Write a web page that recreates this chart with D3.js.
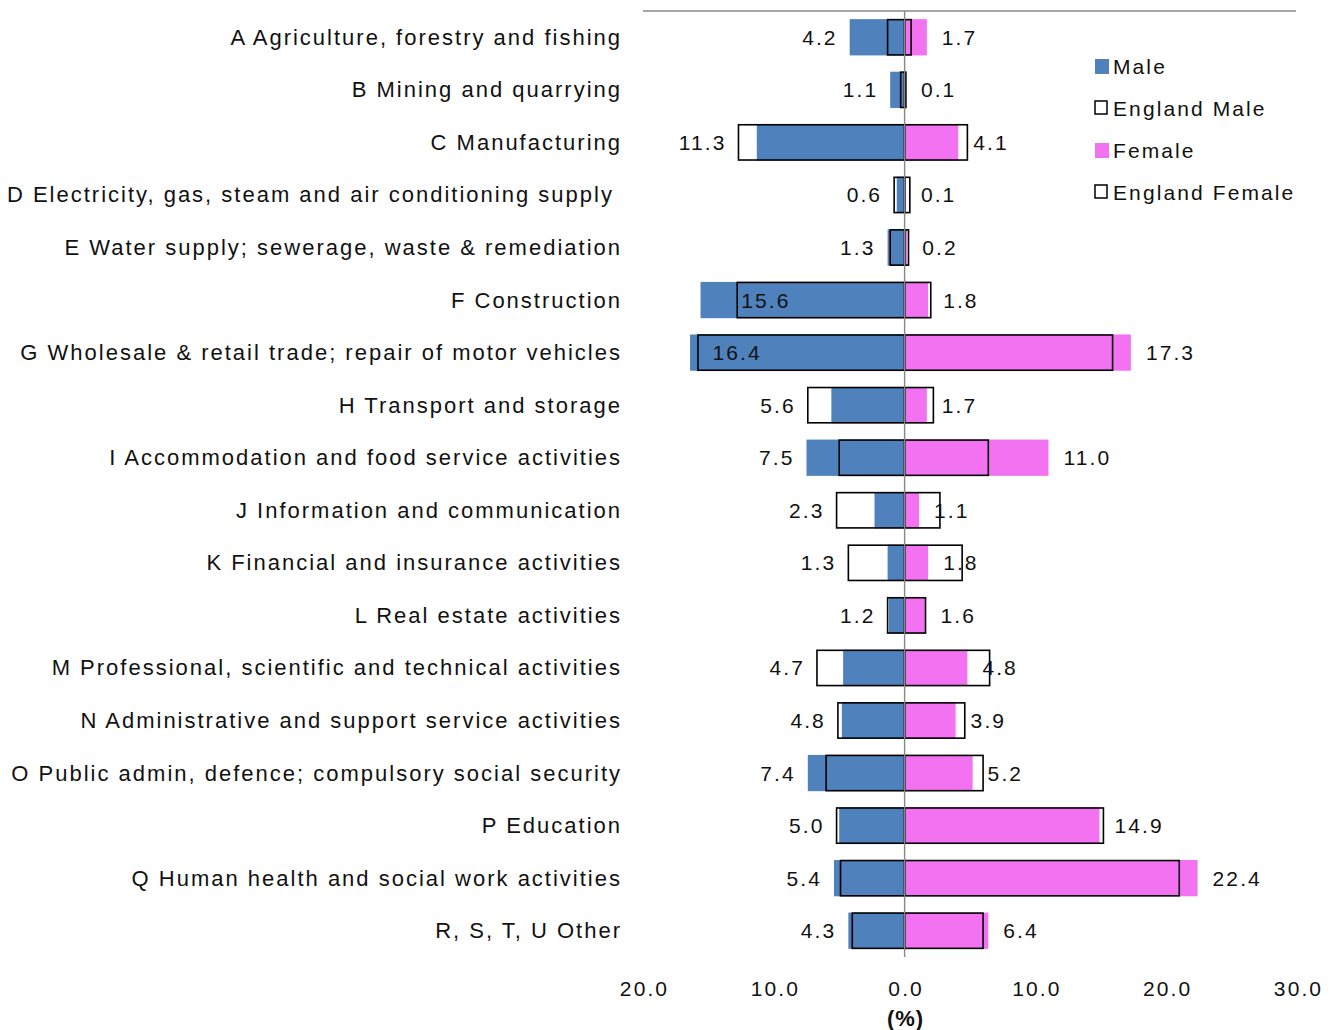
<!DOCTYPE html>
<html><head><meta charset="utf-8">
<script src="https://cdn.jsdelivr.net/npm/d3@7"></script>
<style>
html,body{margin:0;padding:0;background:#fff;}
text{font-family:"Liberation Sans",Arial,sans-serif;fill:#111;white-space:pre;}
</style></head>
<body><svg id="c" width="1338" height="1030"></svg>
<script>
const categories = [
 "A Agriculture, forestry and fishing",
 "B Mining and quarrying",
 "C Manufacturing",
 "D Electricity, gas, steam and air conditioning supply ",
 "E Water supply; sewerage, waste & remediation",
 "F Construction",
 "G Wholesale & retail trade; repair of motor vehicles",
 "H Transport and storage",
 "I Accommodation and food service activities",
 "J Information and communication",
 "K Financial and insurance activities",
 "L Real estate activities",
 "M Professional, scientific and technical activities",
 "N Administrative and support service activities",
 "O Public admin, defence; compulsory social security",
 "P Education",
 "Q Human health and social work activities",
 "R, S, T, U Other"
];
const male = [4.2,1.1,11.3,0.6,1.3,15.6,16.4,5.6,7.5,2.3,1.3,1.2,4.7,4.8,7.4,5.0,5.4,4.3];
const female = [1.7,0.1,4.1,0.1,0.2,1.8,17.3,1.7,11.0,1.1,1.8,1.6,4.8,3.9,5.2,14.9,22.4,6.4];
const englandMale = [1.3,0.3,12.7,0.8,1.1,12.8,15.8,7.4,5.0,5.2,4.3,1.3,6.7,5.1,6.0,5.2,4.9,4.0];
const englandFemale = [0.5,0.1,4.8,0.4,0.3,2.0,15.9,2.2,6.4,2.7,4.4,1.6,6.5,4.6,6.0,15.2,21.0,6.0];
const tickValues = [-20,-10,0,10,20,30];
const tickLabels = ["20.0","10.0","0.0","10.0","20.0","30.0"];
const legendItems = ["Male","England Male","Female","England Female"];
const axisTitle = "(%)";

const svg = d3.select("#c");
const x = d3.scaleLinear().domain([-20,30]).range([643,1297]);
const y = d3.scaleBand().domain(categories).range([11,957]).paddingInner(0.31).paddingOuter(0.155);
const BLUE = "#4F81BD", PINK = "#F372F2";
const FS = 21, LS = "2.1px";

const rows = categories.map((c,i)=>({c, m:male[i], f:female[i], em:englandMale[i], ef:englandFemale[i]}));

// male bars
svg.append("g").selectAll("rect").data(rows).join("rect")
 .attr("x", d=>x(-d.m)).attr("width", d=>x(0)-x(-d.m))
 .attr("y", d=>y(d.c)).attr("height", y.bandwidth()).attr("fill", BLUE);
// female bars
svg.append("g").selectAll("rect").data(rows).join("rect")
 .attr("x", x(0)).attr("width", d=>x(d.f)-x(0))
 .attr("y", d=>y(d.c)).attr("height", y.bandwidth()).attr("fill", PINK);
// England outlines
const oh = y.bandwidth()-1;
svg.append("g").selectAll("rect").data(rows).join("rect")
 .attr("x", d=>x(-d.em)).attr("width", d=>x(0)-x(-d.em))
 .attr("y", d=>y(d.c)+0.5).attr("height", oh)
 .attr("fill","none").attr("stroke","#000").attr("stroke-width",1.6);
svg.append("g").selectAll("rect").data(rows).join("rect")
 .attr("x", x(0)).attr("width", d=>x(d.ef)-x(0))
 .attr("y", d=>y(d.c)+0.5).attr("height", oh)
 .attr("fill","none").attr("stroke","#000").attr("stroke-width",1.6);

// top line and zero line
svg.append("line").attr("x1",x(-20)).attr("x2",x(30)-1).attr("y1",11).attr("y2",11)
 .attr("stroke","#888").attr("stroke-width",1.6);
svg.append("line").attr("x1",x(0)).attr("x2",x(0)).attr("y1",11).attr("y2",957)
 .attr("stroke","#888").attr("stroke-width",1.4);

// category labels
svg.append("g").selectAll("text").data(rows).join("text")
 .attr("x",622).attr("y",d=>y(d.c)+y.bandwidth()/2)
 .attr("text-anchor","end").attr("dominant-baseline","central")
 .style("font-size","22px").style("letter-spacing","2.0px")
 .text(d=>d.c);

// male value labels
svg.append("g").selectAll("text").data(rows).join("text")
 .attr("x", d=> d.m>15 ? x(-Math.min(d.em,15))+4 : Math.min(x(-d.m),x(-d.em))-12)
 .attr("y", d=>y(d.c)+y.bandwidth()/2)
 .attr("text-anchor", d=> d.m>15 ? "start" : "end").attr("dominant-baseline","central")
 .style("font-size",FS+"px").style("letter-spacing",LS)
 .text(d=>d.m.toFixed(1));
// female value labels
svg.append("g").selectAll("text").data(rows).join("text")
 .attr("x", d=> x(d.f)+15)
 .attr("y", d=>y(d.c)+y.bandwidth()/2)
 .attr("text-anchor","start").attr("dominant-baseline","central")
 .style("font-size",FS+"px").style("letter-spacing",LS)
 .text(d=>d.f.toFixed(1));

// x axis
const ax = svg.append("g").attr("transform","translate(0,988)")
 .call(d3.axisBottom(x).tickValues(tickValues).tickSize(0).tickPadding(0)
   .tickFormat((d,i)=>tickLabels[i]));
ax.select(".domain").remove();
ax.selectAll("text").attr("dy",null).attr("y",0).attr("dominant-baseline","central")
 .attr("dx","1px")
 .style("font-size",FS+"px").style("letter-spacing",LS)
 .style("font-family","'Liberation Sans',Arial,sans-serif").attr("fill","#111");
svg.append("text").attr("x",x(0)+1).attr("y",1018).attr("text-anchor","middle")
 .attr("dominant-baseline","central").style("font-size","22px").style("font-weight","bold")
 .style("letter-spacing","1px").text(axisTitle);

// legend
const lg = svg.append("g");
legendItems.forEach((name,i)=>{
  const cy = 66 + i*42;
  if(i%2===0){
    lg.append("rect").attr("x",1095).attr("y",cy-7).attr("width",14).attr("height",15)
      .attr("fill", i===0?BLUE:PINK);
  } else {
    lg.append("rect").attr("x",1095).attr("y",cy-7).attr("width",12).attr("height",13)
      .attr("fill","#fff").attr("stroke","#000").attr("stroke-width",1.5);
  }
  lg.append("text").attr("x",1113).attr("y",cy).attr("dominant-baseline","central")
    .style("font-size",FS+"px").style("letter-spacing",LS).text(name);
});
</script></body></html>
